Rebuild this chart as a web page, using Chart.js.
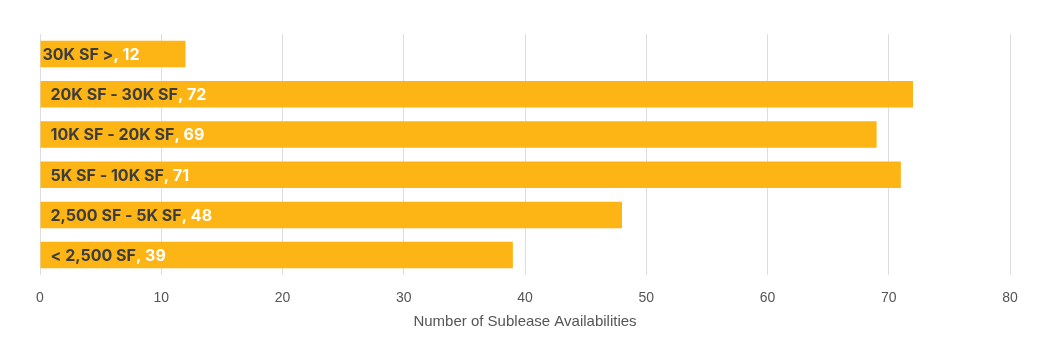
<!DOCTYPE html>
<html>
<head>
<meta charset="utf-8">
<script src="https://cdn.jsdelivr.net/npm/chart.js@4"></script>
<style>
  html, body { margin: 0; padding: 0; background: #fff; }
  #wrap { width: 1054px; height: 354px; }
</style>
</head>
<body>
<div id="wrap"><canvas id="sublease-size"></canvas></div>
<script>
const sizeCategories = ['30K SF >', '20K SF - 30K SF', '10K SF - 20K SF', '5K SF - 10K SF', '2,500 SF - 5K SF', '< 2,500 SF'];
const availabilities = [12, 72, 69, 71, 48, 39];
const xTicks = [0, 10, 20, 30, 40, 50, 60, 70, 80];

const barColor = '#FDB515';

// draws "Category, value" inside each bar
const barLabels = {
  id: 'barLabels',
  afterDatasetsDraw(chart) {
    const ctx = chart.ctx;
    const meta = chart.getDatasetMeta(0);
    ctx.save();
    ctx.font = '700 16px Inter, "Noto Sans", sans-serif';
    ctx.textBaseline = 'middle';
    meta.data.forEach((bar, i) => {
      const left = Math.min(bar.base, bar.x);
      const width = Math.abs(bar.x - bar.base);
      const pad = width < 200 ? 2 : 10;
      const name = sizeCategories[i];
      ctx.fillStyle = '#3d3d3d';
      ctx.fillText(name, left + pad, bar.y + 1);
      const w = ctx.measureText(name).width;
      ctx.fillStyle = '#ffffff';
      ctx.fillText(', ' + availabilities[i], left + pad + w, bar.y + 1);
    });
    ctx.restore();
  }
};

const ctx = document.getElementById('sublease-size').getContext('2d');
new Chart(ctx, {
  type: 'bar',
  data: {
    labels: sizeCategories,
    datasets: [{
      data: availabilities,
      backgroundColor: barColor,
      borderWidth: 0,
      categoryPercentage: 1,
      barPercentage: 0.66,
    }],
  },
  options: {
    indexAxis: 'y',
    responsive: true,
    maintainAspectRatio: false,
    animation: false,
    layout: {
      padding: { left: 40, right: 44, top: 34, bottom: 23 },
    },
    scales: {
      x: {
        min: 0,
        max: 80,
        afterBuildTicks: (axis) => {
          axis.ticks = xTicks.map((v) => ({ value: v }));
        },
        border: { display: false },
        grid: { color: '#dddddd', drawTicks: false },
        ticks: {
          padding: 15,
          color: '#555555',
          font: { family: '"Liberation Sans", Arial, sans-serif', size: 14 },
        },
        title: {
          display: true,
          text: 'Number of Sublease Availabilities',
          color: '#555555',
          font: { family: '"Liberation Sans", Arial, sans-serif', size: 15 },
          padding: { top: -9, bottom: 0 },
        },
      },
      y: {
        display: false,
      },
    },
    plugins: {
      legend: { display: false },
      tooltip: { enabled: false },
    },
  },
  plugins: [barLabels],
});
</script>
</body>
</html>
